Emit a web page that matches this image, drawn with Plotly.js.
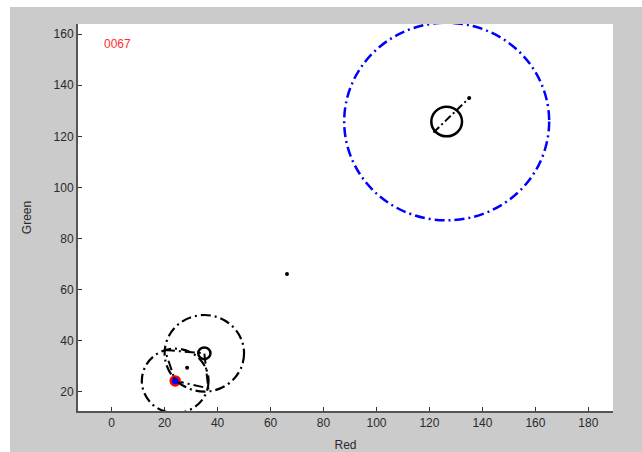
<!DOCTYPE html>
<html><head><meta charset="utf-8">
<script src="https://cdn.plot.ly/plotly-3.0.1.min.js"></script>
<style>
html,body{margin:0;padding:0;background:#fff;width:642px;height:452px;overflow:hidden}
#chart{position:absolute;left:10px;top:7px;width:632px;height:445px}
</style></head><body>
<div id="chart"></div>
<script>
// Dash-dot circles (center x, center y, radius) in data units
const circleCx = [126.5, 35, 24];
const circleCy = [125.8, 35, 24.2];
const circleR  = [38.7, 15, 12.6];
const circleColors = ['#0000ff', '#000000', '#000000'];

// Solid rings (center x, center y, radius) in data units
const ringX = [126.5, 35];
const ringY = [125.8, 35];
const ringR = [5.8, 2.3];

// Dash-dot kite joining circle intersections and centers
const kiteX = [20.1, 35, 36.5, 24, 20.1];
const kiteY = [36.3, 35, 21.3, 24.2, 36.3];

// Segment inside upper ring
const segX = [121.5, 135];
const segY = [121.5, 135];

// Small dots
const dotX = [135, 66.2, 28.5];
const dotY = [135, 66.1, 29.3];

// Highlighted point
const hiX = [24];
const hiY = [24.2];

const frameLabel = '0067';
const labelX = -3.5, labelY = 156.3;

const xTicks = [0, 20, 40, 60, 80, 100, 120, 140, 160, 180];
const yTicks = [20, 40, 60, 80, 100, 120, 140, 160];

const dashPat = '10px,4px,2px,4px';

const shapes = circleCx.map((cx, i) => ({
  type: 'circle', xref: 'x', yref: 'y',
  x0: cx - circleR[i], x1: cx + circleR[i],
  y0: circleCy[i] - circleR[i], y1: circleCy[i] + circleR[i],
  line: {color: circleColors[i], width: i === 0 ? 2.5 : 2.2, dash: dashPat}
})).concat(ringX.map((cx, i) => ({
  type: 'circle', xref: 'x', yref: 'y',
  x0: cx - ringR[i], x1: cx + ringR[i],
  y0: ringY[i] - ringR[i], y1: ringY[i] + ringR[i],
  line: {color: '#000', width: 2.5}
})));

const traces = [
  {x: kiteX, y: kiteY, mode: 'lines', line: {color: '#000', width: 2, dash: dashPat}, hoverinfo: 'skip'},
  {x: segX, y: segY, mode: 'lines', line: {color: '#000', width: 2, dash: '8px,3px,2px,3px'}, hoverinfo: 'skip'},
  {x: dotX, y: dotY, mode: 'markers', marker: {symbol: 'circle', size: 4, color: '#000'}},
  {x: hiX, y: hiY, mode: 'markers', marker: {symbol: 'circle', size: 9, color: '#0000ff', line: {width: 2.5, color: '#ff0000'}}}
];

const axisFont = {family: 'Liberation Sans, Arial, sans-serif', size: 12, color: '#2a2a2a'};

const layout = {
  width: 632, height: 445,
  paper_bgcolor: '#cbcbcb', plot_bgcolor: '#ffffff',
  margin: {l: 68, r: 29, t: 17, b: 41},
  showlegend: false,
  shapes: shapes,
  xaxis: {
    range: [-12.7, 189.3], tickvals: xTicks, ticktext: xTicks.map(String),
    ticks: 'inside', ticklen: 4, tickwidth: 1, tickcolor: '#333',
    showline: true, linecolor: '#555', linewidth: 2, mirror: false,
    showgrid: false, zeroline: false, tickfont: axisFont,
    title: {text: 'Red', font: axisFont, standoff: 12}
  },
  yaxis: {
    range: [12.4, 164], tickvals: yTicks, ticktext: yTicks.map(String),
    ticks: 'inside', ticklen: 4, tickwidth: 1, tickcolor: '#333',
    showline: true, linecolor: '#555', linewidth: 2, mirror: false,
    showgrid: false, zeroline: false, tickfont: axisFont,
    title: {text: 'Green', font: axisFont, standoff: 19}
  },
  annotations: [{
    x: labelX, y: labelY, xref: 'x', yref: 'y', text: frameLabel, showarrow: false,
    xanchor: 'left', yanchor: 'middle',
    font: {family: 'Liberation Sans, Arial, sans-serif', size: 12, color: '#ff3030'}
  }]
};

Plotly.newPlot('chart', traces, layout, {staticPlot: true, displayModeBar: false});
</script>
</body></html>
